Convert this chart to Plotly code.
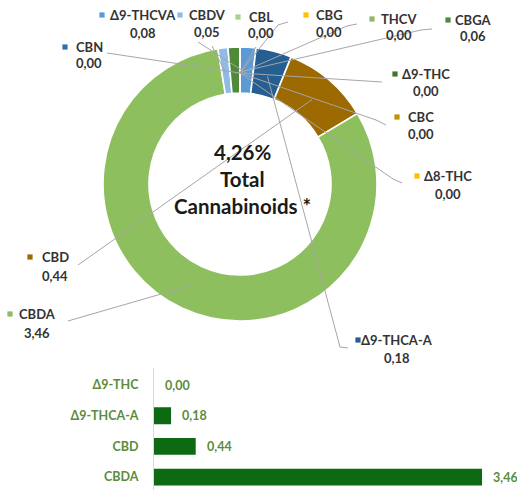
import math
import plotly.graph_objects as go

# ---------------- data ----------------
pie_labels = ["Δ9-THCVA", "Δ9-THCA-A", "CBD", "CBDA", "CBDV", "CBGA",
              "CBN", "CBL", "CBG", "THCV", "Δ9-THC", "CBC", "Δ8-THC"]
pie_values = [0.08, 0.18, 0.44, 3.46, 0.05, 0.06,
              0.00, 0.00, 0.00, 0.00, 0.00, 0.00, 0.00]
pie_colors = ["#5b9bd5", "#255e91", "#9c6a00", "#8dbf5e", "#8fbbe6", "#4e8a3a",
              "#2e6fae", "#a9d18e", "#ffc000", "#8fb865", "#43752a", "#c09000", "#ffc000"]

bar_categories = ["Δ9-THC", "Δ9-THCA-A", "CBD", "CBDA"]
bar_values = [0.00, 0.18, 0.44, 3.46]

center_lines = ["4,26%", "Total", "Cannabinoids *"]

# ---------------- layout helpers ----------------
W, H = 517, 490
CX, CY, R_OUT, R_IN = 240, 184, 137, 91
R_LEAD = 111
FONT = "Lato, 'Noto Sans', sans-serif"
LABEL_COLOR = "#333333"
BAR_GREEN = "#0d6a12"
TEXT_GREEN = "#5b8c3b"


def fx(x):
    return x / W


def fy(y):
    return 1 - y / H


def fmt(v):
    return f"{v:.2f}".replace(".", ",")


# label placement: marker x, name centre x, name y, value y, leader start path
label_pos = {
    "Δ9-THCVA": (102, 143, 15, 33, [(198, 42)]),
    "CBDV": (180, 207, 15, 32, [(212, 46)]),
    "CBL": (238, 261, 17, 33, [(256, 47)]),
    "CBG": (306, 329, 15, 32, [(288, 22), (278, 25)]),
    "THCV": (372, 399, 19, 35, [(357, 24), (347, 26)]),
    "CBGA": (448, 473, 20, 36, [(432, 29), (421, 30)]),
    "CBN": (65, 89, 47, 63, [(107, 53)]),
    "Δ9-THC": (395, 426, 74, 91, [(382, 82)]),
    "CBC": (397, 421, 117, 134, [(386, 125), (376, 120)]),
    "Δ8-THC": (417, 448, 176, 194, [(402, 183), (393, 179)]),
    "Δ9-THCA-A": (358, 397, 340, 358, [(348, 348), (340, 347)]),
    "CBD": (30, 55, 257, 276, [(78, 265)]),
    "CBDA": (10, 37, 314, 333, [(68, 321)]),
}

# slice mid angles from the data
total = sum(pie_values)
mid_angle = {}
cum = 0.0
for lab, v in zip(pie_labels, pie_values):
    mid_angle[lab] = (cum + v / 2) / total * 360.0
    cum += v

fig = go.Figure()

fig.add_trace(go.Pie(
    labels=pie_labels, values=pie_values, sort=False, direction="clockwise",
    rotation=0, hole=R_IN / R_OUT, textinfo="none", hoverinfo="label+value",
    marker=dict(colors=pie_colors, line=dict(color="white", width=1.6)),
    domain=dict(x=[fx(CX - R_OUT), fx(CX + R_OUT)], y=[fy(CY + R_OUT), fy(CY - R_OUT)]),
    showlegend=False,
))

fig.add_trace(go.Bar(
    y=bar_categories, x=bar_values, orientation="h",
    marker=dict(color=BAR_GREEN, line=dict(width=0)),
    showlegend=False, hoverinfo="x+y",
))

shapes = []
annotations = []
color_of = dict(zip(pie_labels, pie_colors))
for lab, (mx, nx, ny, vy, path) in label_pos.items():
    a = math.radians(mid_angle[lab])
    ex, ey = CX + R_LEAD * math.sin(a), CY - R_LEAD * math.cos(a)
    pts = path + [(ex, ey)]
    d = "M " + " L ".join(f"{fx(x):.5f},{fy(y):.5f}" for x, y in pts)
    shapes.append(dict(type="path", xref="paper", yref="paper", path=d,
                       line=dict(color="#a6a6a6", width=1), layer="above"))
    shapes.append(dict(type="rect", xref="paper", yref="paper",
                       x0=fx(mx - 2.6), x1=fx(mx + 2.6), y0=fy(ny + 2.6), y1=fy(ny - 2.6),
                       fillcolor=color_of[lab], line=dict(width=0), layer="above"))
    annotations.append(dict(xref="paper", yref="paper", x=fx(nx), y=fy(ny),
                            xanchor="center", yanchor="middle", showarrow=False,
                            text=f"<b>{lab}</b>",
                            font=dict(family=FONT, size=13, color=LABEL_COLOR)))
    v = pie_values[pie_labels.index(lab)]
    annotations.append(dict(xref="paper", yref="paper", x=fx(nx), y=fy(vy),
                            xanchor="center", yanchor="middle", showarrow=False,
                            text=f"<b>{fmt(v)}</b>",
                            font=dict(family=FONT, size=13, color=LABEL_COLOR)))

for txt, yy in zip(center_lines, [152, 179, 206]):
    annotations.append(dict(xref="paper", yref="paper", x=fx(CX + 2), y=fy(yy),
                            xanchor="center", yanchor="middle", showarrow=False,
                            text=f"<b>{txt}</b>",
                            font=dict(family=FONT, size=20.5, color="#1a1a1a")))

for cat, v in zip(bar_categories, bar_values):
    annotations.append(dict(xref="x", yref="y", x=v, y=cat, xanchor="left",
                            yanchor="middle", xshift=9, showarrow=False,
                            text=f"<b>{fmt(v)}</b>",
                            font=dict(family=FONT, size=12.5, color=TEXT_GREEN)))

fig.update_layout(
    width=W, height=H, margin=dict(l=0, r=0, t=0, b=0),
    paper_bgcolor="white", plot_bgcolor="white",
    bargap=0.45, shapes=shapes, annotations=annotations,
    xaxis=dict(domain=[fx(154), fx(485.8)], range=[0, 3.5], visible=False,
               fixedrange=True),
    yaxis=dict(domain=[0, fy(368)], type="category", range=[3.42, -0.554],
               showline=True, linecolor="#d9d9d9", linewidth=1, ticks="",
               showgrid=False, ticklabelstandoff=12, fixedrange=True,
               tickfont=dict(family=FONT, size=12.5, color=TEXT_GREEN, weight="bold")),
)

fig.write_html(
    "out.html",
    config={"displayModeBar": False},
    post_script="document.body.style.margin='0';"
                "document.documentElement.style.overflow='hidden';"
                "document.body.style.overflow='hidden';",
)
